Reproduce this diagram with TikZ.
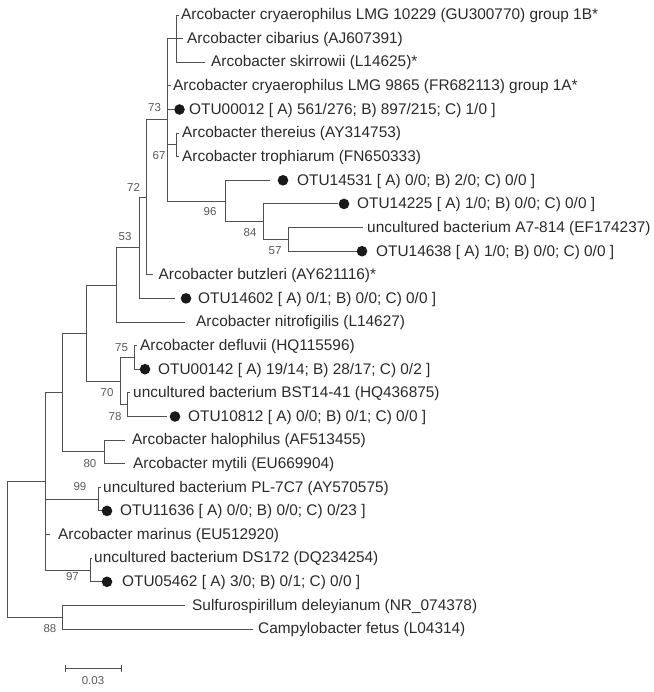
\documentclass[tikz,border=0pt]{standalone}
\usepackage{fontspec}
\setmainfont{Liberation Sans}
\definecolor{branch}{HTML}{505050}
\definecolor{txt}{HTML}{2A2A2A}
\definecolor{boot}{HTML}{5A5A5A}
\begin{document}
\begin{tikzpicture}[x=1pt,y=-1pt,
  br/.style={draw=branch, line width=0.95pt},
  taxon/.style={anchor=base west, inner sep=0, text=txt, font=\fontsize{15.4}{18}\selectfont},
  bs/.style={inner sep=0, text=boot, font=\fontsize{11.5}{13}\selectfont},
  otu/.style={circle, fill=black!90, inner sep=0, minimum size=10.6pt}]
\useasboundingbox (0,0) rectangle (653,692);
% internal nodes
\coordinate (R)   at (7,549);
\coordinate (NC)  at (45,481.2);
\coordinate (NB)  at (62,392.5);
\coordinate (NA)  at (86,333);
\coordinate (N53) at (116,285);
\coordinate (N72) at (139,247.9);
\coordinate (Q)   at (146,197.3);
\coordinate (P)   at (167.5,119.8);
\coordinate (X1)  at (176.5,38.6);
\coordinate (N67) at (176,144.9);
\coordinate (N96) at (225,201);
\coordinate (N84) at (263,221.6);
\coordinate (N57) at (288,239.3);
\coordinate (N70) at (120,381);
\coordinate (N75) at (134,357.4);
\coordinate (N78) at (127,404.6);
\coordinate (N80) at (104,451.9);
\coordinate (N99) at (98,499.1);
\coordinate (N97) at (90,570);
\coordinate (N88) at (62,617.2);
% leaf tips
\coordinate (e1)  at (179,15);
\coordinate (e2)  at (183,38.6);
\coordinate (e3)  at (205,62.2);
\coordinate (e4)  at (170.5,85.8);
\coordinate (e5)  at (174,109.5);
\coordinate (e6)  at (179,133.1);
\coordinate (e7)  at (179,156.7);
\coordinate (e8)  at (270,180.3);
\coordinate (e9)  at (338,203.9);
\coordinate (e10) at (363,227.5);
\coordinate (e11) at (357,251.2);
\coordinate (e12) at (153,274.8);
\coordinate (e13) at (175,298.4);
\coordinate (e14) at (185,322);
\coordinate (e15) at (137,345.6);
\coordinate (e16) at (139.5,369.2);
\coordinate (e17) at (130,392.8);
\coordinate (e18) at (167,416.5);
\coordinate (e19) at (125,440.1);
\coordinate (e20) at (125,463.7);
\coordinate (e21) at (100.5,487.3);
\coordinate (e22) at (101.5,510.9);
\coordinate (e23) at (50,534.5);
\coordinate (e24) at (92,558.1);
\coordinate (e25) at (101.5,581.8);
\coordinate (e26) at (185,605.4);
\coordinate (e27) at (253,629);
% branches
\draw[br] (R) |- (NC);
\draw[br] (R) |- (N88);
\draw[br] (NC) |- (NB);
\draw[br] (NC) |- (N99);
\draw[br] (NC) |- (e23);
\draw[br] (NC) |- (N97);
\draw[br] (NB) |- (NA);
\draw[br] (NB) |- (N80);
\draw[br] (NA) |- (N53);
\draw[br] (NA) |- (N70);
\draw[br] (N53) |- (N72);
\draw[br] (N53) |- (e14);
\draw[br] (N72) |- (Q);
\draw[br] (N72) |- (e13);
\draw[br] (Q) |- (P);
\draw[br] (Q) |- (e12);
\draw[br] (P) |- (X1);
\draw[br] (P) |- (e4);
\draw[br] (P) |- (e5);
\draw[br] (P) |- (N67);
\draw[br] (P) |- (N96);
\draw[br] (X1) |- (e1);
\draw[br] (X1) |- (e2);
\draw[br] (X1) |- (e3);
\draw[br] (N67) |- (e6);
\draw[br] (N67) |- (e7);
\draw[br] (N96) |- (e8);
\draw[br] (N96) |- (N84);
\draw[br] (N84) |- (e9);
\draw[br] (N84) |- (N57);
\draw[br] (N57) |- (e10);
\draw[br] (N57) |- (e11);
\draw[br] (N70) |- (N75);
\draw[br] (N70) |- (N78);
\draw[br] (N75) |- (e15);
\draw[br] (N75) |- (e16);
\draw[br] (N78) |- (e17);
\draw[br] (N78) |- (e18);
\draw[br] (N80) |- (e19);
\draw[br] (N80) |- (e20);
\draw[br] (N99) |- (e21);
\draw[br] (N99) |- (e22);
\draw[br] (N97) |- (e24);
\draw[br] (N97) |- (e25);
\draw[br] (N88) |- (e26);
\draw[br] (N88) |- (e27);
% OTU markers
\node[otu] (d5)  at (179.5,109.5) {};
\node[otu] (d8)  at (283,180.3) {};
\node[otu] (d9)  at (344,203.9) {};
\node[otu] (d11) at (362,251.2) {};
\node[otu] (d13) at (186,298.4) {};
\node[otu] (d16) at (145,369.2) {};
\node[otu] (d18) at (175,416.5) {};
\node[otu] (d22) at (107,510.9) {};
\node[otu] (d25) at (107,581.8) {};
% taxon labels
\node[taxon] (t1)  at (181,19.8)   {Arcobacter cryaerophilus LMG 10229 (GU300770) group 1B*};
\node[taxon] (t2)  at (187,43.4)   {Arcobacter cibarius (AJ607391)};
\node[taxon] (t3)  at (211,67.0)   {Arcobacter skirrowii (L14625)*};
\node[taxon] (t4)  at (173,90.6)   {Arcobacter cryaerophilus LMG 9865 (FR682113) group 1A*};
\node[taxon] (t5)  at (189,114.3)  {OTU00012 [ A) 561/276; B) 897/215; C) 1/0 ]};
\node[taxon] (t6)  at (182,137.9)  {Arcobacter thereius (AY314753)};
\node[taxon] (t7)  at (182,161.5)  {Arcobacter trophiarum (FN650333)};
\node[taxon] (t8)  at (297,185.1)  {OTU14531 [ A) 0/0; B) 2/0; C) 0/0 ]};
\node[taxon] (t9)  at (357,208.7)  {OTU14225 [ A) 1/0; B) 0/0; C) 0/0 ]};
\node[taxon] (t10) at (367,232.3)  {uncultured bacterium A7-814 (EF174237)};
\node[taxon] (t11) at (376,256.0)  {OTU14638 [ A) 1/0; B) 0/0; C) 0/0 ]};
\node[taxon] (t12) at (158.5,279.6) {Arcobacter butzleri (AY621116)*};
\node[taxon] (t13) at (198,303.2)  {OTU14602 [ A) 0/1; B) 0/0; C) 0/0 ]};
\node[taxon] (t14) at (196,326.8)  {Arcobacter nitrofigilis (L14627)};
\node[taxon] (t15) at (140,350.4)  {Arcobacter defluvii (HQ115596)};
\node[taxon] (t16) at (158,374.0)  {OTU00142 [ A) 19/14; B) 28/17; C) 0/2 ]};
\node[taxon] (t17) at (133,397.6)  {uncultured bacterium BST14-41 (HQ436875)};
\node[taxon] (t18) at (188,421.3)  {OTU10812 [ A) 0/0; B) 0/1; C) 0/0 ]};
\node[taxon] (t19) at (132,444.9)  {Arcobacter halophilus (AF513455)};
\node[taxon] (t20) at (133,468.5)  {Arcobacter mytili (EU669904)};
\node[taxon] (t21) at (103,492.1)  {uncultured bacterium PL-7C7 (AY570575)};
\node[taxon] (t22) at (120,515.7)  {OTU11636 [ A) 0/0; B) 0/0; C) 0/23 ]};
\node[taxon] (t23) at (58,539.3)   {Arcobacter marinus (EU512920)};
\node[taxon] (t24) at (94,562.9)   {uncultured bacterium DS172 (DQ234254)};
\node[taxon] (t25) at (122,586.6)  {OTU05462 [ A) 3/0; B) 0/1; C) 0/0 ]};
\node[taxon] (t26) at (192,610.2)  {Sulfurospirillum deleyianum (NR\_074378)};
\node[taxon] (t27) at (258,633.8)  {Campylobacter fetus (L04314)};
% bootstrap values
\node[bs] (b73) at (154.5,108) {73};
\node[bs] (b67) at (159,156)   {67};
\node[bs] (b72) at (133.5,187) {72};
\node[bs] (b96) at (210,212)   {96};
\node[bs] (b84) at (250,233)   {84};
\node[bs] (b57) at (275,251)   {57};
\node[bs] (b53) at (125,237)   {53};
\node[bs] (b75) at (121.5,348) {75};
\node[bs] (b70) at (107,393)   {70};
\node[bs] (b78) at (115,417)   {78};
\node[bs] (b80) at (90,464)    {80};
\node[bs] (b99) at (80,487)    {99};
\node[bs] (b97) at (72.5,577)  {97};
\node[bs] (b88) at (50,628.5)  {88};
% scale bar
\coordinate (s1) at (65,668);
\coordinate (s2) at (121,668);
\draw[br] (s1) -- (s2);
\draw[br] ([yshift=-3.5pt]s1) -- ([yshift=3.5pt]s1);
\draw[br] ([yshift=-3.5pt]s2) -- ([yshift=3.5pt]s2);
\node[bs] (sbl) at (93,681) {0.03};
\end{tikzpicture}
\end{document}
